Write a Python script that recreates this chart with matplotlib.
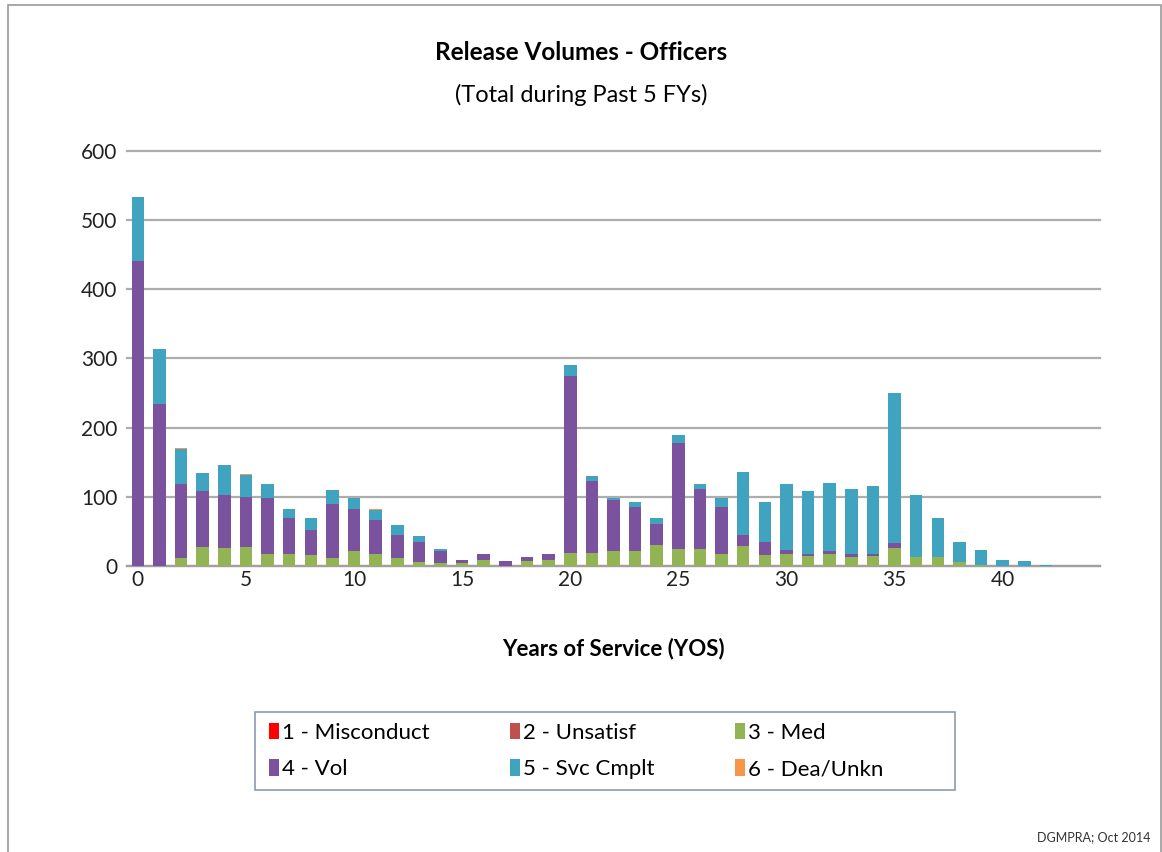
import numpy as np
import matplotlib.pyplot as plt
from matplotlib.patches import Rectangle

plt.rcParams['font.family'] = ['Lato', 'DejaVu Sans']

# years of service 0..44
yos = list(range(45))

misconduct = [0] * 45
unsatisf = [0] * 45
med = [0, 0, 11, 28, 26, 27, 17, 17, 16, 11, 22, 17, 11, 6, 4, 4, 9, 0, 7, 9,
       19, 19, 22, 22, 30, 24, 24, 18, 29, 16, 17, 14, 17, 13, 14, 26, 13, 13, 6, 1,
       0, 0, 0, 0, 0]
vol = [441, 234, 107, 81, 77, 73, 81, 52, 36, 79, 61, 49, 34, 29, 18, 5, 9, 7, 6, 8,
       256, 104, 73, 63, 31, 154, 88, 67, 16, 18, 6, 4, 5, 4, 4, 7, 0, 0, 0, 0,
       0, 0, 0, 0, 0]
svc = [93, 80, 51, 26, 43, 31, 20, 13, 17, 20, 15, 15, 14, 8, 3, 0, 0, 0, 0, 0,
       16, 7, 4, 7, 8, 11, 7, 13, 91, 58, 95, 90, 98, 95, 97, 217, 90, 56, 28, 22,
       9, 7, 2, 0, 0]
dea = [0, 0, 2, 0, 0, 2, 0, 0, 0, 0, 0, 2, 0, 0, 0, 0, 0, 0, 0, 0,
       0, 0, 0, 0, 0, 0, 0, 0, 0, 0, 0, 0, 0, 0, 0, 0, 0, 0, 0, 0,
       0, 0, 0, 0, 0]

series = [
    ("1 - Misconduct", misconduct, "#FF0000"),
    ("2 - Unsatisf", unsatisf, "#C0504D"),
    ("3 - Med", med, "#93B454"),
    ("4 - Vol", vol, "#7B529E"),
    ("5 - Svc Cmplt", svc, "#40A3C0"),
    ("6 - Dea/Unkn", dea, "#F79646"),
]

fig = plt.figure(figsize=(11.62, 8.52), dpi=100)
ax = fig.add_axes([0.1093, 0.3357, 0.8373, 0.4871])

x = np.array(yos)
bottom = np.zeros(len(yos))
for name, vals, col in series:
    vals = np.array(vals, dtype=float)
    ax.bar(x, vals, width=0.58, bottom=bottom, color=col, label=name, zorder=3)
    bottom += vals

ax.set_xlim(-0.5, 44.5)
ax.set_ylim(0, 600)
ax.set_yticks(range(0, 601, 100))
ax.set_xticks(range(0, 41, 5))
ax.yaxis.grid(True, color="#ADADAD", linewidth=1.6, zorder=0)
for gl in ax.get_ygridlines():
    gl.set_clip_on(False)
ax.set_axisbelow(True)
for s in ["left", "right", "top"]:
    ax.spines[s].set_visible(False)
ax.spines["bottom"].set_color("#A0A0A0")
ax.spines["bottom"].set_linewidth(1.6)
ax.tick_params(axis="both", length=0, labelsize=15, colors="#222222")
ax.tick_params(axis="x", pad=3)
ax.tick_params(axis="y", pad=7)

ax.set_xlabel("Years of Service (YOS)", fontsize=16, fontweight="bold", labelpad=34)

fig.text(0.5, 0.938, "Release Volumes - Officers", ha="center", va="center",
         fontsize=17.5, fontweight="bold")
fig.text(0.5, 0.888, "(Total during Past 5 FYs)", ha="center", va="center",
         fontsize=17)

# legend filled row by row (matplotlib fills columns first)
handles, labels = ax.get_legend_handles_labels()
order = [0, 3, 1, 4, 2, 5]
leg = fig.legend([handles[i] for i in order], [labels[i] for i in order],
                 loc="center left", bbox_to_anchor=(0.2315, 0.1185), ncol=3,
                 fontsize=16, frameon=False,
                 handlelength=0.45, handleheight=0.75, handletextpad=0.15,
                 columnspacing=3.6, labelspacing=0.75, borderpad=0,
                 borderaxespad=0)

# legend border drawn wider than the entries
fig.patches.append(Rectangle((255 / 1162, 1 - 790 / 852), 700 / 1162, 78 / 852,
                             transform=fig.transFigure, fill=False,
                             edgecolor="#8C9BB0", linewidth=1.2))

fig.text(0.99, 0.017, "DGMPRA; Oct 2014", ha="right", va="center",
         fontsize=9, color="#333333")

fig.patches.append(Rectangle((0.007, -0.01), 0.992, 1.004, transform=fig.transFigure,
                             fill=False, edgecolor="#9A9A9A", linewidth=1.2))

fig.savefig("out.png", dpi=100)
